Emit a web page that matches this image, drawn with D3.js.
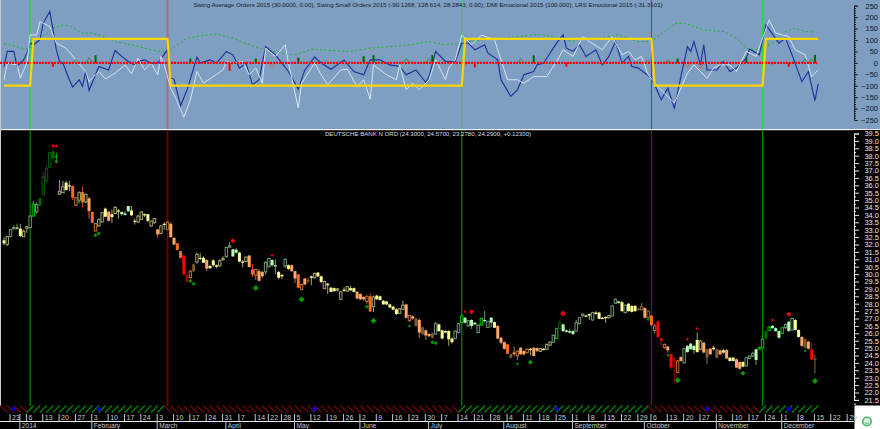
<!DOCTYPE html>
<html><head><meta charset="utf-8">
<style>html,body{margin:0;padding:0;background:#000}svg{display:block}text{font-family:"Liberation Sans",Arial,sans-serif}</style>
<script src="https://cdn.jsdelivr.net/npm/d3@7/dist/d3.min.js"></script>
</head><body><svg id="c" width="880" height="429"></svg>
<script>
const topTitle="Swing Average Orders 2015 (30.0000, 0.00), Swing Small Orders 2015 (-90.1268, 128.614, 28.2843, 0.00), DMI Emocional 2015 (100.000), LRS Emocional 2015 (-31.3101)";
const mainTitle="DEUTSCHE BANK N ORD (24.3000, 24.5700, 23.2780, 24.2900, +0.12300)";

const opens=[32.28,32.01,32.53,33.1,33.15,33.07,32.53,33.1,33.14,33.92,
34.2,35.1,35.35,36.3,37.23,38.27,37.95,35.4,35.5,36.18,
36.0,35.95,34.65,35.0,35.55,34.87,35.12,34.2,32.91,33.25,
33.52,34.42,34.22,34.05,34.1,34.3,34.2,34.1,34.6,34.3,
33.6,33.52,33.7,34.05,34.05,33.25,33.47,33.02,32.75,33.4,
33.02,33.4,32.45,32.08,31.55,31.25,29.98,29.76,30.65,30.82,
31.1,31.1,30.95,30.55,30.93,30.6,30.55,31.0,31.18,31.85,
31.68,31.65,31.45,30.85,30.85,31.25,30.32,29.92,30.2,30.15,
30.15,30.5,30.95,30.6,30.15,29.95,30.55,30.6,30.6,30.2,
29.98,28.97,29.7,29.6,29.85,29.75,30.1,29.85,29.02,29.35,
29.08,29.05,28.92,28.3,28.95,28.85,29.05,29.05,28.8,28.65,
28.45,28.15,28.5,27.8,28.55,28.5,28.2,28.15,27.95,27.8,
27.62,27.35,27.62,27.95,26.85,27.15,27.0,26.9,26.4,26.2,
25.95,26.0,25.95,26.6,26.2,26.15,26.15,25.65,25.65,26.05,
26.72,27.05,26.5,26.9,26.72,26.05,26.55,26.9,26.4,27.05,
26.75,26.5,25.7,25.4,25.25,24.58,24.7,24.47,25.03,24.8,
24.7,24.95,25.03,25.0,24.78,24.95,24.92,25.2,25.4,25.66,
26.32,26.6,26.2,26.15,26.15,26.15,26.65,27.2,27.2,27.3,
26.9,27.4,27.4,27.05,27.1,27.05,27.17,28.03,28.15,28.1,
27.4,28.0,27.85,27.85,27.65,27.6,27.7,27.05,27.2,26.2,
26.8,25.65,25.03,25.1,24.6,24.35,23.35,24.4,24.0,25.15,
25.3,25.15,25.55,24.92,25.37,24.92,24.96,25.03,24.92,24.85,
24.85,24.87,24.35,24.35,24.24,24.06,24.06,23.8,24.3,24.47,
24.92,24.95,25.03,26.15,26.2,26.5,26.35,26.15,26.0,26.38,
26.78,26.22,26.9,26.22,25.75,25.6,25.43,24.92,24.3];
const highs=[32.48,32.6,33.05,33.3,33.4,33.4,33.0,33.25,34.0,34.95,
34.85,35.2,36.9,37.3,38.25,38.4,38.2,36.35,36.3,36.3,
36.3,36.0,35.2,35.6,35.9,35.45,35.2,34.25,33.45,33.75,
34.2,34.5,34.25,34.35,34.6,34.4,34.25,34.25,34.6,34.6,
33.75,34.0,34.25,34.1,34.05,33.6,33.8,33.05,33.3,33.5,
33.55,33.5,32.5,32.1,31.6,31.3,30.0,30.25,30.7,31.45,
31.4,31.2,31.0,30.6,31.0,30.65,31.0,31.2,31.85,32.15,
31.7,31.75,31.5,30.95,31.2,31.3,30.7,30.35,30.35,30.2,
30.85,31.1,31.0,31.0,30.2,30.0,31.05,30.65,30.65,30.2,
30.0,29.35,29.75,29.75,29.9,30.1,30.15,29.9,29.55,29.4,
29.15,29.1,29.05,28.85,29.1,29.2,29.2,29.1,28.85,28.7,
28.5,28.55,28.7,28.55,28.6,28.55,28.25,28.2,28.0,27.85,
27.7,27.7,28.2,28.0,27.25,27.2,27.05,27.0,26.45,26.25,
26.0,26.05,26.75,26.65,26.25,26.2,26.2,25.7,26.2,26.7,
27.3,27.1,26.9,26.95,26.75,26.6,27.05,27.5,26.85,27.1,
26.8,26.55,25.75,25.45,25.3,24.6,25.1,24.85,25.05,24.85,
24.97,25.0,25.05,25.05,25.0,25.0,25.3,25.45,25.9,26.35,
26.85,26.65,26.25,26.3,26.2,26.9,27.1,27.35,27.25,27.35,
27.45,27.5,27.45,27.1,27.15,27.25,27.9,28.35,28.2,28.2,
27.95,28.05,27.9,27.9,27.75,28.05,27.75,27.55,27.25,26.65,
26.85,25.7,25.3,25.15,24.6,24.4,24.2,24.45,25.0,25.2,
25.35,25.2,26.05,25.55,25.4,24.95,25.0,25.15,24.95,24.9,
24.95,24.95,24.4,24.4,24.3,24.1,24.1,24.4,24.5,24.75,
24.95,25.1,25.65,26.2,26.5,26.55,26.4,26.2,26.4,26.65,
26.85,27.05,26.95,26.25,25.8,25.65,25.5,25.35,24.57];
const lows=[31.95,31.9,32.5,33.0,33.0,32.5,32.5,32.8,33.1,33.9,
34.1,34.6,35.3,36.2,37.2,37.8,37.55,35.35,35.5,35.65,
35.6,35.0,34.6,34.9,34.5,34.8,33.75,33.45,32.9,33.2,
33.5,33.85,33.55,33.45,34.05,33.75,33.95,33.95,34.2,33.95,
33.35,33.45,33.7,33.85,33.5,33.2,33.4,32.45,32.7,33.0,
33.0,32.45,31.95,31.6,31.05,29.9,29.45,29.7,30.15,30.7,
30.95,30.75,30.2,30.35,30.5,30.4,30.5,30.9,31.1,31.8,
31.15,31.4,30.8,30.45,30.8,30.45,29.8,29.6,29.5,29.75,
29.95,30.45,30.5,30.0,29.65,29.65,30.4,30.3,30.15,29.4,
29.05,28.9,29.25,29.4,29.25,29.7,29.8,29.4,29.0,28.65,
28.78,28.8,28.85,28.28,28.8,28.8,28.85,28.75,28.3,28.25,
28.2,28.0,27.45,27.45,28.25,28.2,27.95,27.9,27.7,27.55,
27.25,27.3,27.6,27.0,26.8,26.9,26.45,25.7,25.9,25.55,
25.75,25.65,25.9,26.1,25.6,26.0,25.15,25.3,25.6,26.0,
26.7,26.65,26.45,26.3,26.55,26.0,26.5,26.75,26.4,26.4,
26.35,25.6,25.25,24.9,24.6,24.3,24.45,24.2,24.55,24.5,
24.65,24.5,24.45,24.75,24.75,24.85,24.9,25.15,25.35,25.6,
26.3,26.1,26.05,26.0,25.9,26.1,26.6,27.05,27.1,26.9,
26.85,27.25,26.95,26.95,26.7,27.0,27.15,28.0,28.0,27.45,
27.35,27.45,27.4,27.45,27.55,27.55,27.0,27.0,26.5,26.0,
25.7,25.1,24.95,24.7,23.6,22.66,23.3,24.1,23.95,24.7,
24.9,24.6,24.7,24.85,24.65,23.9,24.55,24.85,24.3,24.55,
24.6,24.25,24.1,24.1,23.65,23.55,23.7,23.75,24.25,24.4,
23.85,24.9,25.0,25.6,26.15,26.3,26.1,25.65,25.95,26.3,
26.1,26.2,26.2,25.7,25.1,25.0,24.9,24.2,23.28];
const closes=[32.08,32.53,33.02,33.15,33.1,32.57,32.9,33.2,33.92,34.71,
34.7,34.6,36.56,37.12,38.2,37.82,37.9,35.6,35.9,35.68,
35.95,35.16,35.16,35.5,34.85,35.39,34.26,33.47,33.41,33.7,
34.15,33.88,33.6,33.85,34.5,34.25,34.05,34.0,34.25,33.97,
33.55,33.92,34.2,34.0,33.6,33.58,33.75,32.68,33.25,33.4,
33.5,32.5,32.0,31.63,31.1,29.98,29.47,30.2,30.2,31.33,
31.05,30.77,30.37,30.4,30.6,30.5,30.9,31.05,31.8,31.9,
31.2,31.45,30.85,30.8,31.15,30.48,29.98,30.32,29.55,29.85,
30.8,31.05,30.6,30.55,29.75,29.85,31.0,30.35,30.2,29.7,
29.08,29.3,29.3,29.5,29.75,30.05,29.85,29.47,29.5,29.25,
28.8,28.85,29.0,28.8,28.9,29.15,28.9,28.8,28.35,28.3,
28.3,28.5,27.47,28.45,28.3,28.25,27.95,27.95,27.75,27.6,
27.3,27.65,27.9,27.05,27.2,27.0,26.5,26.05,25.95,25.85,
25.8,25.7,26.65,26.15,25.65,26.05,25.6,25.4,26.15,26.65,
27.17,26.72,26.85,26.5,26.6,26.55,27.0,26.85,26.8,26.72,
26.38,25.65,25.37,24.95,24.62,24.35,24.6,24.8,24.58,24.58,
24.92,24.9,24.47,24.8,24.97,24.9,25.25,25.4,25.87,26.31,
26.72,26.15,26.1,26.05,25.95,26.72,27.05,27.3,27.15,27.2,
27.4,27.3,26.98,27.0,27.05,27.2,27.85,28.3,28.05,27.5,
27.9,27.5,27.45,27.5,27.6,27.8,27.05,27.5,26.55,26.5,
25.75,25.5,25.25,24.85,23.7,24.15,24.13,24.13,24.96,24.73,
24.92,24.87,24.73,25.48,24.7,24.35,24.58,24.92,24.35,24.58,
24.7,24.3,24.13,24.13,23.68,23.6,23.75,24.35,24.47,24.65,
24.2,25.03,25.6,25.66,26.42,26.35,26.15,25.7,26.38,26.6,
26.15,27.0,26.22,25.75,25.15,25.03,24.96,24.24,24.29];
const barTones=("yygggyyygG"+"gDDDDDGyyy"+"yOoyOyoOoy"+"yyoyyygggy"+"yyyyyyyoyy"+
"oooOOrRody"+"yyoyyyyygg"+"ggyyyoOooo"+"ggggyygyoo"+"Ooodyyyyyy"+
"yyyyyyyyoo"+"ooOyyyyyyy"+"yyyooododo"+"odgyyyyygg"+"GgggggGggg"+
"yoooOdoooo"+"oyooyyyygG"+"Dgggggggyy"+"gyyyyygggy"+"gyyyddodOo"+
"rroorRoogg"+"ggyyodoydo"+"yoyyooyggg"+"gGGDGgggGg"+"ggyyodord").split("");

const blueBars=[0,1,3,4,6,7,8,9,11,12,14,15,16,17,18,20,21,23,24,25,26,28,29,32,33,34,36,38,40,41,43,45,47,50,51,52,54,56,59,60,63,65,68,70,72,74,76,78,80,83,85,87,90,92,95,97,100,104,107,110,112,115,118,121,123,126,129,130,132,133,135,138,140,142,144,147,148,151,152,155,157,159,162,163,165,169,171,172,174,176,178,181,183,185,187,189,191,192,194,198,199,201,203,205,207,209,210,211,213,214,215,218,220,222,224,227,228,231,233,237,239,241,244,246,248,249];
const blueVals=[-16,50,50,-16,13,42,86,79,101,174,225,143,57,6,-1,-74,-106,-74,-103,-38,-121,-52,-16,-31,13,54,28,6,-9,6,13,-1,-1,57,-67,-71,-188,-118,25,-1,13,-1,50,35,-23,-1,-96,-74,71,35,-1,-38,-115,-31,25,-1,-28,13,-38,-52,13,13,-9,-16,-52,-31,-86,-60,50,35,6,6,86,86,57,79,42,13,-74,-147,-118,-52,-38,-9,-1,86,122,64,50,79,28,57,-9,28,93,-1,28,-16,-23,-67,-96,-162,-111,-198,-60,71,50,93,-9,79,-31,-31,6,-38,-23,20,60,35,166,86,108,35,-82,-38,-165,-92];
const whiteBars=[0,1,4,5,7,8,10,11,14,16,19,22,25,26,28,29,31,34,37,39,41,43,45,47,48,49,51,53,55,57,59,61,64,67,68,70,73,75,77,79,80,83,86,87,90,91,95,97,99,103,105,108,110,112,113,117,120,121,123,125,127,130,132,135,136,138,140,143,146,150,154,157,159,162,166,169,171,174,177,179,183,186,189,191,193,195,197,200,202,205,209,211,215,217,219,222,224,227,230,234,236,240,242,245,247,249];
const whiteVals=[-74,-1,-9,-67,-1,122,122,181,159,86,64,13,-38,-82,-52,-38,-70,-45,-9,-48,20,-31,-1,-52,28,-9,-111,-169,-238,-162,-38,-89,-60,-31,6,-1,6,-52,-23,-89,64,28,79,-1,-198,-89,-1,-52,-96,-31,-28,-104,-74,-159,-9,-52,-74,-9,-118,-89,-118,-74,13,-74,-23,13,122,79,122,101,-74,-74,-89,-60,-60,6,57,28,115,93,57,115,35,50,13,28,-52,-104,-133,-176,-45,-9,-67,-23,-9,-9,-38,50,28,188,130,115,57,35,-60,-31];
const greenBars=[0,3,7,9,12,15,18,20,24,27,31,34,39,45,50,53,56,60,65,70,75,80,85,89,94,100,106,112,118,124,130,135,140,147,153,159,164,169,174,176,182,188,194,198,202,205,208,211,214,220,224,227,230,233,236,239,242,245,248];
const greenVals=[83,74,60,71,115,152,165,162,130,130,112,93,79,57,45,79,108,118,127,108,79,57,42,35,60,54,50,64,71,79,93,79,86,104,108,118,125,111,93,104,108,122,93,93,137,171,174,159,144,137,108,64,57,71,93,137,152,137,134];
const yellowBars=[0,8,9,50,51,140,141,198,199,232,233,249];
const yellowVals=[-100,-100,105,105,-100,-100,105,105,-100,-100,105,105];

const histBars=[15,28,57,69,77,90,110,113,131,144,162,172,206,227,240,248];
const histVals=[-17,33,19,-35,19,23,29,33,33,-20,33,-17,19,23,-17,35];
const triBars=[22,26,82,123,130,141,158,197,203,209,213,235,245,247];
const triVals=[14,22,-20,19,19,-12,19,14,11,-20,-25,-8,18,18];

const signalBars=[8,50,140,198,232];
const signalKinds=["up","down","up","down","up"];
const dotBars=[3,29,95,169,215,240];

const greenMarkBars=[16,23,28,29,57,58,77,91,111,113,124,131,132,157,161,197,203,206,226,245,248];
const greenMarkVals=[37.6,34.87,32.62,32.75,29.53,29.35,29.06,28.3,27.8,26.85,26.5,25.4,25.34,23.95,24.04,26.94,24.51,22.82,23.3,24.8,22.78];
const greenMarkSize=[2,1.5,2,2,2,2,3,3,2,3,1.5,2,2,1.5,2.5,1.5,1.5,3,2.5,1.5,3];
const redMarkBars=[15,16,70,82,141,143,171,209,212,235,240];
const redMarkVals=[38.65,38.65,32.26,31.27,27.46,27.46,27.33,25.59,26.33,26.9,27.28];
const redMarkSize=[1.8,1.8,2.5,1.5,1.5,2.5,3,1.5,1.5,1.5,2.5];

const dayBars=[2,5,7,12,17,22,27,32,37,42,47,52,57,62,67,72,77,81,85,89,94,99,104,109,114,119,124,129,134,139,144,149,154,159,164,169,174,179,184,189,194,198,203,208,213,218,223,228,233,238,243,248,253,258];
const dayLabels=["23","","6","13","20","27","3","10","17","24","3","10","17","24","31","7","14","22","28","5","12","19","26","2","9","16","23","30","7","14","21","28","4","11","18","25","1","8","15","22","29","6","13","20","27","3","10","17","24","1","8","15","22","29"];
const monthBars=[5,27,47,68,89,109,130,153,174,196,218,238];
const monthLabels=["2014","February","March","April","May","June","July","August","September","October","November","December"];
const topTicks=[250,200,150,100,50,0,-50,-100,-150,-200,-250];

const toneFill={y:"#ffff99",o:"#ffa868",O:"#ff6a20",r:"#ff0000",R:"#990000",d:"#7a5a30",g:"#b4ffb4",G:"#00a000",D:"#006a00"};
const toneLine={y:"#a8a468",o:"#c07038",O:"#c05020",r:"#c00000",R:"#990000",d:"#8a6a3a",g:"#6e9a78",G:"#00c000",D:"#006000"};

const svg=d3.select("#c");
const x=d3.scaleLinear().domain([0,249]).range([3,817.2]);
const cx=i=>x(i)+1;
const yT=d3.scaleLinear().domain([-250,250]).range([120,5.7]);
const yM=d3.scaleLinear().domain([21.5,39.5]).range([399.9,133.5]);

svg.append("rect").attr("width",880).attr("height",429).attr("fill","#000");
svg.append("rect").attr("width",880).attr("height",129).attr("fill","#7e9ec2");
svg.append("rect").attr("x",0).attr("y",129).attr("width",880).attr("height",1.2).attr("fill","#f4f6f8");
svg.append("rect").attr("x",0).attr("y",0).attr("width",1).attr("height",406).attr("fill","#c8ccd0");

const sigTop=svg.append("g"),sigMain=svg.append("g");
signalBars.forEach((b,i)=>{
  const up=signalKinds[i]==="up", w=b===50?2:1;
  sigTop.append("line").attr("x1",cx(b)).attr("x2",cx(b)).attr("y1",0).attr("y2",129)
    .attr("stroke",up?"#22e022":(b===50?"#b4687a":"#b02838")).attr("stroke-width",w);
  sigMain.append("line").attr("x1",cx(b)).attr("x2",cx(b)).attr("y1",130).attr("y2",406)
    .attr("stroke",up?"#00a000":(b===50?"#6e0000":"#a80000")).attr("stroke-width",w);
});

const line=(bars,vals)=>d3.line().x((d,i)=>cx(bars[i])).y(d=>yT(d))(vals);
svg.append("path").attr("d",line(greenBars,greenVals)).attr("fill","none").attr("stroke","#22b822").attr("stroke-width",1).attr("stroke-dasharray","2.2 2.2");
svg.append("path").attr("d",line(blueBars,blueVals)).attr("fill","none").attr("stroke","#1a2f9c").attr("stroke-width",1.1);
svg.append("path").attr("d",line(whiteBars,whiteVals)).attr("fill","none").attr("stroke","#e2eaf3").attr("stroke-width",0.9);
svg.append("g").selectAll("rect").data(histBars).join("rect")
  .attr("x",d=>cx(d)-1).attr("width",2)
  .attr("y",(d,i)=>Math.min(yT(histVals[i]),yT(0))).attr("height",(d,i)=>Math.abs(yT(histVals[i])-yT(0)))
  .attr("fill",(d,i)=>histVals[i]>0?"#006400":"#ff0000");
svg.append("g").selectAll("path").data(triBars).join("path")
  .attr("d",(d,i)=>d3.line()([[x(d-1)+1,yT(0)],[cx(d),yT(triVals[i])],[x(d+1)+1,yT(0)]]))
  .attr("fill","none").attr("stroke",(d,i)=>triVals[i]>0?"#2a8a3a":"#d85a5a").attr("stroke-width",0.9);
svg.append("line").attr("x1",0).attr("x2",x(249)).attr("y1",yT(0)).attr("y2",yT(0)).attr("stroke","#ff0000").attr("stroke-width",2.2).attr("stroke-dasharray","2 1");
svg.append("path").attr("d",line(yellowBars,yellowVals)).attr("fill","none").attr("stroke","#ffd500").attr("stroke-width",2.2);

const candles=svg.append("g");
opens.forEach((o,i)=>{
  const c=closes[i],t=barTones[i],hollow=c>o,col=hollow?toneLine[t]:toneFill[t];
  const g=candles.append("g");
  g.append("line").attr("x1",cx(i)).attr("x2",cx(i)).attr("y1",yM(highs[i])).attr("y2",yM(lows[i])).attr("stroke",toneLine[t]).attr("stroke-width",1);
  const top=yM(Math.max(o,c)),h=Math.max(1.2,Math.abs(yM(o)-yM(c)));
  if(hollow){g.append("rect").attr("x",cx(i)-1.2).attr("y",top).attr("width",2.4).attr("height",h).attr("fill","#000").attr("stroke",col).attr("stroke-width",1);}
  else{g.append("rect").attr("x",cx(i)-1.5).attr("y",top).attr("width",3).attr("height",h).attr("fill",col);}
});

const diamond=(b,v,r)=>`M${cx(b)},${yM(v)-r}L${cx(b)+r},${yM(v)}L${cx(b)},${yM(v)+r}L${cx(b)-r},${yM(v)}Z`;
svg.append("g").selectAll("path").data(greenMarkBars).join("path").attr("d",(d,i)=>diamond(d,greenMarkVals[i],greenMarkSize[i])).attr("fill","#009a00");
svg.append("g").selectAll("path").data(redMarkBars).join("path").attr("d",(d,i)=>diamond(d,redMarkVals[i],redMarkSize[i])).attr("fill","#f00000");

const hatch=svg.append("g");
const hatchTop=405.5,hatchBot=412.5;
d3.range(0,250,2).forEach(b=>{
  let k=-1; signalBars.forEach((s,i)=>{if(b>=s)k=i;});
  const up=k>=0&&signalKinds[k]==="up";
  hatch.append("line").attr("x1",cx(b)-3.5).attr("x2",cx(b)+3.5)
    .attr("y1",up?hatchBot:hatchTop).attr("y2",up?hatchTop:hatchBot)
    .attr("stroke",up?"#008a00":"#7a0010").attr("stroke-width",1.1);
});
svg.append("g").selectAll("circle").data(dotBars).join("circle").attr("cx",d=>cx(d)).attr("cy",409).attr("r",2.3).attr("fill","#0000c8");

svg.append("rect").attr("x",854).attr("y",130.2).attr("width",26).attr("height",298.8).attr("fill","#000");
svg.append("rect").attr("x",854.5).attr("y",405.5).attr("width",25.5).attr("height",23.5).attr("fill","#fff");
svg.append("circle").attr("cx",867).attr("cy",421.5).attr("r",4.2).attr("fill","#d8f2dc").attr("stroke","#3db86a").attr("stroke-width",1.6);
svg.append("path").attr("d","M864.8,422.8Q867,425 869.2,422.8").attr("fill","none").attr("stroke","#3db86a").attr("stroke-width",0.9);

svg.append("text").attr("x",428).attr("y",6.5).attr("text-anchor","middle").attr("font-size",6.15).attr("fill","#16202c").text(topTitle);
svg.append("text").attr("x",428).attr("y",135.5).attr("text-anchor","middle").attr("font-size",6.1).attr("fill","#d8dde2").text(mainTitle);

const axT=svg.append("g").attr("transform","translate(854,0)")
  .call(d3.axisRight(yT).tickValues(topTicks).tickFormat(d3.format("d")).tickSize(4).tickPadding(3));
axT.select(".domain").attr("stroke","#20262c");
axT.selectAll("line").attr("stroke","#20262c");
axT.selectAll("text").attr("x",24).attr("text-anchor","end").attr("font-size",7.5).attr("font-family",'"Liberation Sans"').attr("fill","#10161c");
const axTm=svg.append("g").attr("transform","translate(854,0)")
  .call(d3.axisRight(yT).tickValues(d3.range(-250,251,10)).tickFormat("").tickSize(2));
axTm.select(".domain").remove(); axTm.selectAll("line").attr("stroke","#20262c");

const axM=svg.append("g").attr("transform","translate(854,0)")
  .call(d3.axisRight(yM).tickValues(d3.range(21.5,39.51,0.5)).tickFormat(d3.format(".1f")).tickSize(5));
axM.select(".domain").attr("stroke","#e4e8ec");
axM.selectAll("line").attr("stroke","#e4e8ec");
axM.selectAll("text").attr("x",25).attr("text-anchor","end").attr("font-size",7.5).attr("font-family",'"Liberation Sans"').attr("fill","#e2e8ee");
const axMm=svg.append("g").attr("transform","translate(854,0)")
  .call(d3.axisRight(yM).tickValues(d3.range(21.25,39.5,0.5)).tickFormat("").tickSize(2));
axMm.select(".domain").remove(); axMm.selectAll("line").attr("stroke","#e4e8ec");

const axD=svg.append("g").attr("transform","translate(0,421)")
  .call(d3.axisBottom(x).tickValues(dayBars).tickFormat((d,i)=>dayLabels[i]).tickSize(-7).tickPadding(0));
axD.select(".domain").remove();
axD.selectAll("line").attr("stroke","#c4c8cc");
axD.selectAll("text").attr("x",2).attr("y",-1.5).attr("dy",0).attr("text-anchor","start").attr("font-size",7).attr("font-family",'"Liberation Sans"').attr("fill","#c4c8cc");
svg.append("rect").attr("x",0).attr("y",421).attr("width",854).attr("height",1).attr("fill","#e8eaec");
const axMo=svg.append("g").attr("transform","translate(0,421)")
  .call(d3.axisBottom(x).tickValues(monthBars).tickFormat((d,i)=>monthLabels[i]).tickSize(8));
axMo.select(".domain").remove();
axMo.selectAll("line").attr("stroke","#c4c8cc");
axMo.selectAll("text").attr("x",2).attr("y",7).attr("dy",0).attr("text-anchor","start").attr("font-size",6.6).attr("font-family",'"Liberation Sans"').attr("fill","#c4c8cc");
</script></body></html>
